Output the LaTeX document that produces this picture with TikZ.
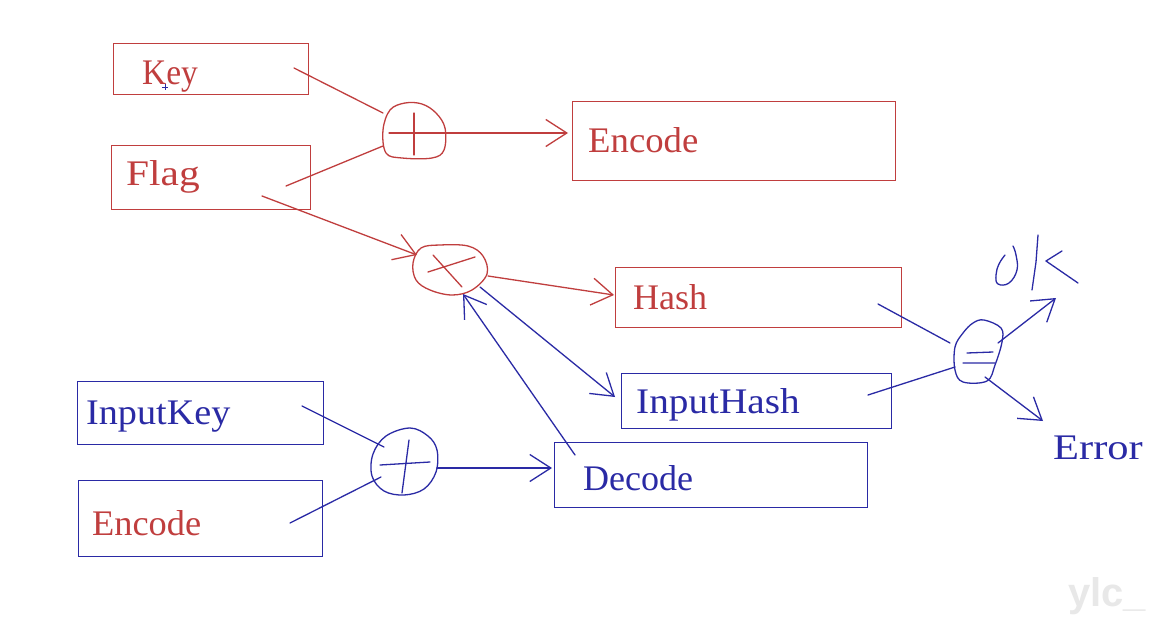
\documentclass[tikz,border=0pt]{standalone}
\usepackage{fontspec}
\setmainfont{Liberation Serif}
\newfontfamily\wmfont{Liberation Sans}
\usetikzlibrary{arrows.meta}
\definecolor{pred}{RGB}{192,62,62}
\definecolor{pblue}{RGB}{42,42,165}
\begin{document}
\begin{tikzpicture}[x=1pt,y=-1pt,
  box/.style={draw,line width=1.1pt,inner sep=0pt,anchor=north west},
  lbl/.style={anchor=base west,inner sep=0pt,font=\fontsize{36}{40}\selectfont},
  stroke/.style={line width=1.3pt,line cap=round,line join=round},
  tip/.style={-{Straight Barb[length=21pt,width=27pt,line width=1.3pt]}},
  redline/.style={stroke,draw=pred},
  blueline/.style={stroke,draw=pblue}]
\useasboundingbox (0,0) rectangle (1159,621);
\fill[white] (0,0) rectangle (1159,621);

% ---- boxes ----
\node[box,draw=pred,minimum width=195pt,minimum height=51pt] (keyb) at (113,43) {};
\node[lbl,text=pred] (keyt) at (142,84) {\scalebox{0.93}[1]{Key}};
\node[box,draw=pred,minimum width=199pt,minimum height=64pt] (flagb) at (111,145) {};
\node[lbl,text=pred] (flagt) at (126,185) {\scalebox{1.15}[1]{Flag}};
\node[box,draw=pred,minimum width=323pt,minimum height=79pt] (encb) at (572,101) {};
\node[lbl,text=pred] (enct) at (588,152) {\scalebox{1.02}[1]{Encode}};
\node[box,draw=pred,minimum width=286pt,minimum height=60pt] (hashb) at (615,267) {};
\node[lbl,text=pred] (hasht) at (633,309) {Hash};
\node[box,draw=pblue,minimum width=270pt,minimum height=55pt] (ihb) at (621,373) {};
\node[lbl,text=pblue] (iht) at (636,413) {\scalebox{1.09}[1]{InputHash}};
\node[box,draw=pblue,minimum width=246pt,minimum height=63pt] (ikb) at (77,381) {};
\node[lbl,text=pblue] (ikt) at (86,424) {\scalebox{1.06}[1]{InputKey}};
\node[box,draw=pblue,minimum width=244pt,minimum height=76pt] (enc2b) at (78,480) {};
\node[lbl,text=pred] (enc2t) at (92,535) {\scalebox{1.01}[1]{Encode}};
\node[box,draw=pblue,minimum width=313pt,minimum height=65pt] (decb) at (554,442) {};
\node[lbl,text=pblue] (dect) at (583,490) {Decode};
\node[lbl,text=pblue] (errt) at (1053,459) {\scalebox{1.18}[1]{Error}};

% cursor mark
\draw[pblue,line width=0.6pt] (162,87) -- (168,87) (165,84) -- (165,90);

% ---- operators ----
\coordinate (plusA) at (414,131);
\draw[redline] plot[smooth cycle,tension=0.6] coordinates {(390,110) (405,103) (422,104) (436,113) (445,128) (444,150) (432,158) (402,158) (386,153) (383,130)};
\draw[redline] (389,133) -- (458,133) (414,113) -- (414,155);

\coordinate (crossA) at (450,270);
\draw[redline] plot[smooth cycle,tension=0.6] coordinates {(421,248) (440,245) (468,246) (483,256) (487,274) (472,290) (452,295) (430,290) (416,280) (413,263)};
\draw[redline] (428,272) -- (475,257) (433,255) -- (462,287);

\coordinate (plusB) at (403,461);
\draw[blueline] plot[smooth cycle,tension=0.6] coordinates {(410,428) (428,436) (437,450) (436,472) (424,489) (404,495) (384,491) (372,476) (373,454) (386,436)};
\draw[blueline] (380,465) -- (430,462) (409,440) -- (402,493);

\coordinate (eqA) at (978,352);
\draw[blueline] plot[smooth cycle,tension=0.6] coordinates {(973,323) (984,320) (1001,328) (1002,342) (995,365) (987,381) (963,382) (955,370) (955,347) (963,333)};
\draw[blueline] (967,353) -- (993,352) (963,363) -- (995,363);

% ---- connector end points ----
\coordinate (k1) at (294,68);   \coordinate (k2) at (383,113);
\coordinate (f1) at (286,186);  \coordinate (f2) at (383,146);
\coordinate (p1) at (445,133);  \coordinate (p2) at (568,133);
\coordinate (f3) at (262,196);  \coordinate (x1) at (417,255);
\coordinate (x2) at (488,276);  \coordinate (h1) at (614,295);
\coordinate (x3) at (480,287);  \coordinate (ih1) at (615,397);
\coordinate (d1) at (575,455);  \coordinate (x4) at (463,294);
\coordinate (ik1) at (302,406); \coordinate (b1) at (384,447);
\coordinate (e1) at (290,523);  \coordinate (b2) at (381,477);
\coordinate (b3) at (437,468);  \coordinate (d2) at (552,468);
\coordinate (h2) at (878,304);  \coordinate (q1) at (950,343);
\coordinate (ih2) at (868,395); \coordinate (q2) at (955,367);
\coordinate (q3) at (998,343);  \coordinate (ok) at (1056,298);
\coordinate (q4) at (985,377);  \coordinate (er) at (1043,421);

% ---- connectors ----
\draw[redline] (k1) -- (k2);
\draw[redline] (f1) -- (f2);
\draw[redline,tip] (p1) -- (p2);
\draw[redline,tip] (f3) -- (x1);
\draw[redline,tip] (x2) -- (h1);
\draw[blueline,tip] (x3) -- (ih1);
\draw[blueline,tip] (d1) -- (x4);
\draw[blueline] (ik1) -- (b1);
\draw[blueline] (e1) -- (b2);
\draw[blueline,tip] (b3) -- (d2);
\draw[blueline] (h2) -- (q1);
\draw[blueline] (ih2) -- (q2);
\draw[blueline,tip] (q3) -- (ok);
\draw[blueline,tip] (q4) -- (er);

% handwritten OK
\draw[blueline] plot[smooth,tension=0.7] coordinates {(1005,255) (999,264) (996,275) (998,284) (1009,283) (1017,270) (1016,255) (1013,246)};
\draw[blueline] (1038,235) -- (1036,262) -- (1032,290);
\draw[blueline] (1062,251) -- (1046,261) -- (1078,283);

% watermark
\node[anchor=base west,inner sep=0pt,text=black!9,font=\wmfont\bfseries\fontsize{40}{44}\selectfont] (wm) at (1068,606) {ylc\_};
\end{tikzpicture}
\end{document}
